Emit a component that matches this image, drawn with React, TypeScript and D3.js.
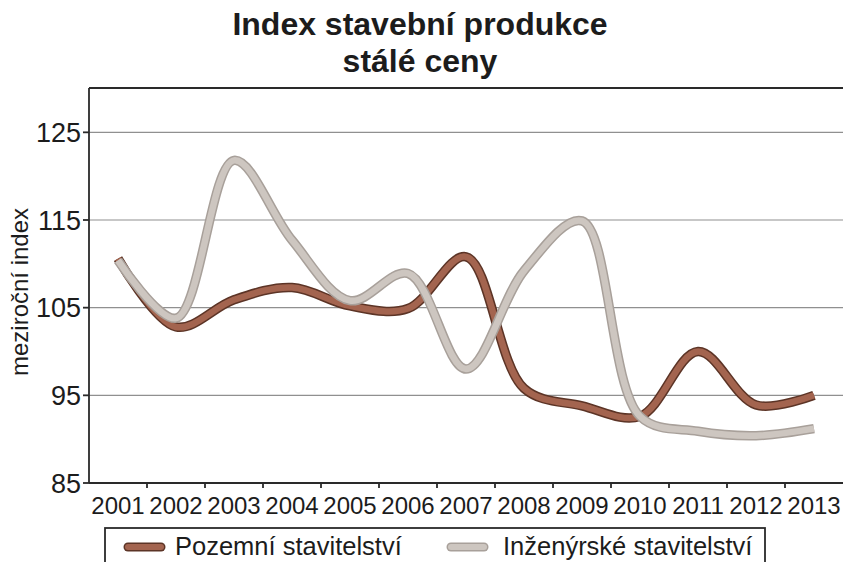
import React, { useEffect } from "react";
import * as d3 from "d3";

// Year-on-year construction output index, constant prices
const years = ["2001", "2002", "2003", "2004", "2005", "2006", "2007", "2008", "2009", "2010", "2011", "2012", "2013"];
const pozemni = [110.6, 102.8, 105.9, 107.3, 105.2, 104.9, 110.8, 95.8, 93.8, 92.6, 100.0, 93.9, 95.0];
const inzenyrske = [110.4, 103.8, 121.8, 112.7, 105.8, 108.9, 98.0, 109.2, 114.9, 92.6, 90.9, 90.4, 91.2];
const yTicks = [85, 95, 105, 115, 125];

const seriesNames = ["Pozemní stavitelství", "Inženýrské stavitelství"];

const W = 843;
const H = 562;
const plot = { left: 89, right: 843, top: 88.5, bottom: 483 };

const FONT = "'Liberation Sans', Arial, Helvetica, sans-serif";
const NARROW = "'Liberation Sans Narrow', 'Arial Narrow', 'Liberation Sans', Arial, sans-serif";

const styles = [
  { edge: "#5c3426", fill: "#a3644f" },
  { edge: "#a8a09a", fill: "#cdc6c0" },
];

export default function App() {
  useEffect(() => {
    document.body.style.margin = "0";
    document.body.style.overflow = "hidden";
  }, []);

  const x = d3.scaleBand<string>().domain(years).range([plot.left, plot.right]);
  const y = d3.scaleLinear().domain([85, 130]).range([plot.bottom, plot.top]);
  const cx = (yr: string) => (x(yr) as number) + x.bandwidth() / 2;

  const line = d3
    .line<number>()
    .x((_, i) => cx(years[i]))
    .y((v) => y(v))
    .curve(d3.curveCatmullRom.alpha(0.5));

  const data = [pozemni, inzenyrske];

  return (
    <svg width={W} height={H} style={{ display: "block", background: "#fff" }}>
      <rect x={0} y={0} width={W} height={H} fill="#fff" />

      {/* title */}
      <text x={420} y={35} textAnchor="middle" fontFamily={FONT} fontWeight="bold" fontSize={32} fill="#1c1c1c">
        Index stavební produkce
      </text>
      <text x={420} y={72} textAnchor="middle" fontFamily={FONT} fontWeight="bold" fontSize={32} fill="#1c1c1c">
        stálé ceny
      </text>

      {/* gridlines */}
      {yTicks.filter((t) => t > 85).map((t) => (
        <line key={t} x1={plot.left} x2={plot.right} y1={y(t)} y2={y(t)} stroke="#909090" strokeWidth={1.1} />
      ))}

      {/* frame */}
      <line x1={plot.left} x2={plot.right} y1={88} y2={88} stroke="#2a2a2a" strokeWidth={2} />
      <line x1={plot.left} x2={plot.left} y1={88} y2={plot.bottom} stroke="#2a2a2a" strokeWidth={1.8} />
      <line x1={plot.left} x2={plot.right} y1={plot.bottom} y2={plot.bottom} stroke="#2a2a2a" strokeWidth={2} />

      {/* y axis ticks and labels */}
      {yTicks.map((t) => (
        <g key={t}>
          <line x1={plot.left - 6} x2={plot.left} y1={y(t)} y2={y(t)} stroke="#2a2a2a" strokeWidth={1.8} />
          <text x={81} y={y(t) + 9.5} textAnchor="end" fontFamily={FONT} fontSize={27} fill="#1c1c1c">
            {t}
          </text>
        </g>
      ))}

      {/* x axis ticks between categories and labels */}
      {years.map((yr, i) => (
        <g key={yr}>
          {i > 0 && (
            <line x1={x(yr)} x2={x(yr)} y1={plot.bottom} y2={plot.bottom + 5} stroke="#2a2a2a" strokeWidth={1.8} />
          )}
          <text x={cx(yr)} y={514} textAnchor="middle" fontFamily={NARROW} fontSize={24} fill="#1c1c1c">
            {yr}
          </text>
        </g>
      ))}

      {/* y axis title */}
      <text
        transform={`translate(28, ${292}) rotate(-90)`}
        textAnchor="middle"
        fontFamily={FONT}
        fontSize={24}
        fill="#1c1c1c"
      >
        meziroční index
      </text>

      {/* series lines */}
      {data.map((vals, i) => (
        <g key={i}>
          <path d={line(vals) ?? ""} fill="none" stroke={styles[i].edge} strokeWidth={9.5} strokeLinejoin="round" strokeLinecap="butt" />
          <path d={line(vals) ?? ""} fill="none" stroke={styles[i].fill} strokeWidth={6.5} strokeLinejoin="round" strokeLinecap="butt" />
        </g>
      ))}

      {/* legend */}
      <rect x={105} y={528} width={660} height={50} fill="#fff" stroke="#2a2a2a" strokeWidth={1.8} />
      {seriesNames.map((name, i) => {
        const sx = i === 0 ? 128 : 451;
        return (
          <g key={name}>
            <line x1={sx} x2={sx + 33} y1={547} y2={547} stroke={styles[i].edge} strokeWidth={9} strokeLinecap="round" />
            <line x1={sx} x2={sx + 33} y1={547} y2={547} stroke={styles[i].fill} strokeWidth={6} strokeLinecap="round" />
            <text x={i === 0 ? 175 : 503} y={555} fontFamily={FONT} fontSize={25.5} fill="#1c1c1c">
              {name}
            </text>
          </g>
        );
      })}
    </svg>
  );
}
